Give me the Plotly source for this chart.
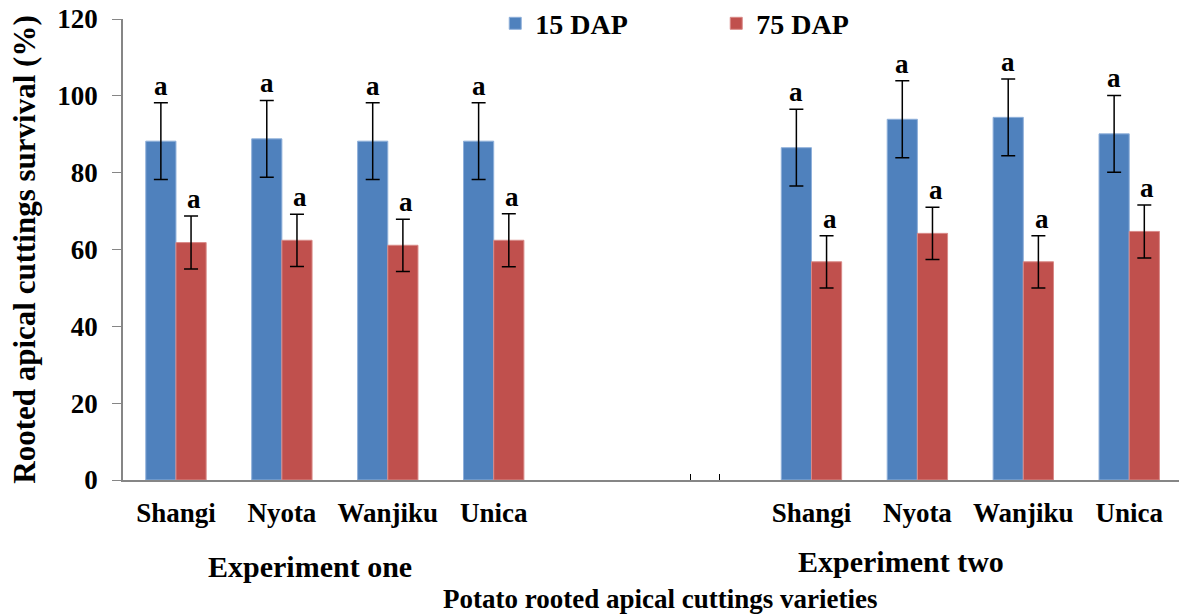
import plotly.graph_objects as go

# ---- data ----
varieties = ["Shangi", "Nyota", "Wanjiku", "Unica"]
exp1_slots = [0, 1, 2, 3]
exp2_slots = [6, 7, 8, 9]
dap15_exp1 = [88.2, 88.8, 88.2, 88.2]
dap15_exp1_err = [10.0, 10.0, 10.0, 10.0]
dap75_exp1 = [61.8, 62.4, 61.1, 62.4]
dap75_exp1_err = [6.9, 6.8, 6.8, 6.9]
dap15_exp2 = [86.5, 93.9, 94.4, 90.1]
dap15_exp2_err = [10.0, 10.0, 10.0, 10.0]
dap75_exp2 = [56.8, 64.2, 56.8, 64.7]
dap75_exp2_err = [6.8, 6.8, 6.8, 6.9]
letters_15 = ["a"] * 8
letters_75 = ["a"] * 8
y_ticks = [0, 20, 40, 60, 80, 100, 120]
extra_ticks = [4.86, 5.13]

BLUE = "#4F81BD"
RED = "#C0504D"
FONT = "Liberation Serif"
BAR_W = 0.285

x_all = exp1_slots + exp2_slots
y15 = dap15_exp1 + dap15_exp2
e15 = dap15_exp1_err + dap15_exp2_err
y75 = dap75_exp1 + dap75_exp2
e75 = dap75_exp1_err + dap75_exp2_err

fig = go.Figure()
fig.add_trace(go.Bar(
    x=x_all, y=y15, name="15 DAP", width=BAR_W, offset=-BAR_W,
    marker=dict(color=BLUE, line=dict(color="#8FB0DA", width=1)),
    error_y=dict(type="data", array=e15, visible=True, color="black", thickness=1.5, width=7),
))
fig.add_trace(go.Bar(
    x=x_all, y=y75, name="75 DAP", width=BAR_W, offset=0,
    marker=dict(color=RED, line=dict(color="#D98A88", width=1)),
    error_y=dict(type="data", array=e75, visible=True, color="black", thickness=1.5, width=7),
))

# significance letters above error bars
for xi, yi, ei, lt in zip(x_all, y15, e15, letters_15):
    fig.add_annotation(x=xi - BAR_W / 2, y=yi + ei, text=lt, showarrow=False,
                       xref="x", yref="y", xanchor="center", yanchor="bottom", yshift=0,
                       font=dict(family=FONT, size=27, color="black", weight="bold"))
for xi, yi, ei, lt in zip(x_all, y75, e75, letters_75):
    fig.add_annotation(x=xi + BAR_W / 2 + 0.03, y=yi + ei, text=lt, showarrow=False,
                       xref="x", yref="y", xanchor="center", yanchor="bottom", yshift=0,
                       font=dict(family=FONT, size=27, color="black", weight="bold"))

# group labels and axis title
fig.add_annotation(x=0.177, y=-0.187, xref="paper", yref="paper", text="Experiment one",
                   showarrow=False, xanchor="center", yanchor="middle",
                   font=dict(family=FONT, size=30, color="black", weight="bold"))
fig.add_annotation(x=0.7366, y=-0.177, xref="paper", yref="paper", text="Experiment two",
                   showarrow=False, xanchor="center", yanchor="middle",
                   font=dict(family=FONT, size=30, color="black", weight="bold"))
fig.add_annotation(x=(659.5 - 123) / 1056, y=-0.258, xref="paper", yref="paper",
                   text="Potato rooted apical cuttings varieties",
                   showarrow=False, xanchor="center", yanchor="middle",
                   font=dict(family=FONT, size=27, color="black", weight="bold"))

fig.update_layout(
    width=1179, height=616,
    margin=dict(l=123, r=0, t=19, b=136, autoexpand=False),
    paper_bgcolor="white", plot_bgcolor="white",
    font=dict(family=FONT, color="black"),
    showlegend=True,
    legend=dict(orientation="h", x=0.3525, xanchor="left", y=0.99, yanchor="middle",
                font=dict(family=FONT, size=28, color="black", weight="bold"),
                entrywidth=176, entrywidthmode="pixels", bgcolor="rgba(0,0,0,0)"),
    xaxis=dict(
        range=[-0.5, 9.47], showgrid=False, zeroline=False,
        showline=True, linecolor="#868686", linewidth=1.5,
        tickmode="array", tickvals=x_all, ticktext=varieties + varieties,
        ticks="", ticklabelstandoff=8, ticklabeloverflow="allow",
        tickfont=dict(family=FONT, size=27, color="black", weight="bold"),
        minor=dict(tickmode="array", tickvals=extra_ticks, ticks="inside",
                   ticklen=6, tickcolor="black", tickwidth=1.2, showgrid=False),
    ),
    yaxis=dict(
        range=[0, 120], showgrid=False, zeroline=False,
        showline=True, linecolor="#868686", linewidth=1.5,
        tickmode="array", tickvals=y_ticks, ticks="outside", ticklen=9,
        tickcolor="#868686", tickwidth=1.2, ticklabelstandoff=9,
        ticklabeloverflow="allow",
        tickfont=dict(family=FONT, size=27, color="black", weight="bold"),
        title=dict(text="Rooted apical cuttings survival (%)", standoff=12,
                   font=dict(family=FONT, size=31, color="black", weight="bold")),
    ),
)

# remove the browser's default 8px body margin so the figure fills the window
fig.write_html("out.html", config={"displayModeBar": False},
               post_script="document.body.style.margin='0px';")
